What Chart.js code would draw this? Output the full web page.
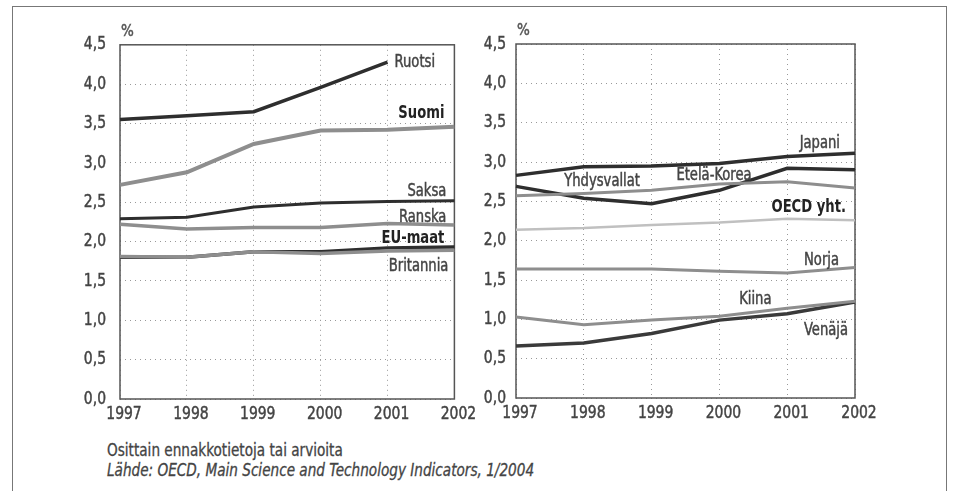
<!DOCTYPE html>
<html><head><meta charset="utf-8">
<script src="https://cdn.jsdelivr.net/npm/chart.js@4/dist/chart.umd.min.js"></script>
<style>
html,body{margin:0;padding:0;background:#fff;width:955px;height:491px;overflow:hidden;}
.frame{position:absolute;left:12px;top:6px;width:935px;height:520px;border:1.5px solid #777;border-bottom:none;box-sizing:border-box;}
.box{position:absolute;top:20px;width:420px;height:420px;}
.note{position:absolute;left:107px;font-family:'DejaVu Sans Condensed','DejaVu Sans',sans-serif;font-stretch:condensed;font-size:17px;color:#444;white-space:nowrap;transform:scaleX(0.89);transform-origin:0 0;-webkit-text-stroke:0.3px #444;}
</style></head>
<body>
<div class="frame"></div>
<div class="box" style="left:60px"><canvas id="c1" width="420" height="420"></canvas></div>
<div class="box" style="left:470px"><canvas id="c2" width="420" height="420"></canvas></div>
<div class="note" style="top:440px">Osittain ennakkotietoja tai arvioita</div>
<div class="note" style="top:460px;font-style:italic">Lähde: OECD, Main Science and Technology Indicators, 1/2004</div>
<script>
const years = ['1997','1998','1999','2000','2001','2002'];
const unitLabel = '%';
// Left panel
const ruotsi    = [3.55, 3.60, 3.65, 3.96, 4.28, null];
const suomi     = [2.72, 2.88, 3.24, 3.41, 3.42, 3.46];
const saksa     = [2.29, 2.31, 2.44, 2.49, 2.51, 2.52];
const ranska    = [2.22, 2.16, 2.18, 2.18, 2.23, 2.21];
const britannia = [1.81, 1.80, 1.87, 1.85, 1.88, 1.89];
const euMaat    = [1.80, 1.80, 1.87, 1.87, 1.92, 1.93];
// Right panel
const japani      = [2.83, 2.94, 2.95, 2.98, 3.07, 3.11];
const yhdysvallat = [2.69, 2.54, 2.47, 2.64, 2.92, 2.90];
const etelaKorea  = [2.57, 2.60, 2.64, 2.72, 2.75, 2.67];
const oecd        = [2.14, 2.16, 2.20, 2.23, 2.28, 2.26];
const norja       = [1.64, 1.64, 1.64, 1.61, 1.59, 1.66];
const kiina       = [1.03, 0.93, 0.99, 1.04, 1.14, 1.23];
const venaja      = [0.66, 0.70, 0.82, 0.99, 1.07, 1.22];

const FONT = "'DejaVu Sans Condensed','DejaVu Sans',sans-serif";
Chart.defaults.font.family = FONT;
Chart.defaults.font.size = 18;
Chart.defaults.color = '#444';

const DARK = '#2e2e2e', GRAY = '#8e8e8e', LIGHT = '#c0c0c0';

// condense canvas text horizontally (the original uses a condensed typeface)
function condense(canvas) {
  const ctx = canvas.getContext('2d');
  const orig = ctx.fillText.bind(ctx);
  const origStroke = ctx.strokeText.bind(ctx);
  ctx.fillText = function (text, x, y, maxW) {
    const s = String(text);
    const k = /^[\d,]+$/.test(s) ? 0.86 : (s === '%' ? 1 : 0.86);
    this.save();
    this.translate(x, y);
    this.scale(k, 1);
    orig(s, 0, 0);
    if (!/bold/.test(this.font)) {
      this.strokeStyle = this.fillStyle;
      this.lineWidth = 0.45;
      origStroke(s, 0, 0);
    }
    this.restore();
  };
}

function ds(label, data, color, width) {
  return {label, data, borderColor: color, borderWidth: width, pointRadius: 0, tension: 0, fill: false, spanGaps: true, borderCapStyle: 'butt', borderJoinStyle: 'miter'};
}

const panelPlugin = {
  id: 'panel',
  beforeDatasetsDraw(chart) {
    const a = chart.chartArea, ctx = chart.ctx;
    ctx.save();
    ctx.strokeStyle = '#555';
    ctx.lineWidth = 1.5;
    ctx.strokeRect(a.left, a.top, a.right - a.left, a.bottom - a.top);
    ctx.fillStyle = '#555';
    ctx.font = '15px ' + FONT;
    ctx.textAlign = 'left';
    ctx.textBaseline = 'bottom';
    ctx.fillText(unitLabel, a.left + 1, a.top - 5);
    ctx.restore();
  },
  afterDatasetsDraw(chart, args, opts) {
    const ctx = chart.ctx, xs = chart.scales.x, ys = chart.scales.y;
    ctx.save();
    ctx.textBaseline = 'middle';
    (opts.labels || []).forEach(l => {
      ctx.font = (l.bold ? 'bold ' : '') + '17px ' + FONT;
      ctx.fillStyle = l.bold ? '#222' : '#444';
      ctx.textAlign = l.align;
      ctx.fillText(l.text, xs.getPixelForValue(l.x) + (l.dx || 0), ys.getPixelForValue(l.y));
    });
    ctx.restore();
  }
};

function makeChart(id, datasets, labels, yWidth, yPad, rightPad, plotH) {
  const canvas = document.getElementById(id);
  condense(canvas);
  return new Chart(canvas, {
    type: 'line',
    data: {labels: years, datasets},
    options: {
      responsive: false, animation: false,
      layout: {padding: {top: 24, right: rightPad, left: 0, bottom: 0}},
      plugins: {legend: {display: false}, tooltip: {enabled: false}, panel: {labels}},
      scales: {
        x: {
          offset: false,
          grid: {color: '#999', lineWidth: 1, drawTicks: false},
          border: {display: false, dash: [1, 4]},
          ticks: {padding: 5, labelOffset: 4, color: '#444', maxRotation: 0, autoSkip: false},
          afterFit(s) { s.height = 420 - 24 - plotH; }
        },
        y: {
          min: 0, max: 4.5,
          grid: {color: '#999', lineWidth: 1, drawTicks: false},
          border: {display: false, dash: [1, 4]},
          ticks: {stepSize: 0.5, padding: yPad, color: '#444', callback: v => v.toFixed(1).replace('.', ',')},
          afterFit(s) { s.width = yWidth; }
        }
      }
    },
    plugins: [panelPlugin]
  });
}

makeChart('c1', [
  ds('Britannia', britannia, GRAY, 3.5),
  ds('EU-maat', euMaat, DARK, 3.5),
  ds('Ranska', ranska, GRAY, 3.5),
  ds('Saksa', saksa, DARK, 3),
  ds('Suomi', suomi, GRAY, 4),
  ds('Ruotsi', ruotsi, DARK, 3.5)
], [
  {text: 'Ruotsi', x: 4, y: 4.27, align: 'left', dx: 7},
  {text: 'Suomi', x: 5, y: 3.62, align: 'right', dx: -10, bold: true},
  {text: 'Saksa', x: 5, y: 2.64, align: 'right', dx: -8},
  {text: 'Ranska', x: 5, y: 2.31, align: 'right', dx: -8},
  {text: 'EU-maat', x: 5, y: 2.04, align: 'right', dx: -10, bold: true},
  {text: 'Britannia', x: 5, y: 1.68, align: 'right', dx: -6}
], 60, 14, 22, 355);

makeChart('c2', [
  ds('OECD yht.', oecd, LIGHT, 2.5),
  ds('Etelä-Korea', etelaKorea, GRAY, 3),
  ds('Norja', norja, GRAY, 3),
  ds('Kiina', kiina, GRAY, 3),
  ds('Venäjä', venaja, '#3a3a3a', 3.5),
  ds('Yhdysvallat', yhdysvallat, DARK, 3.5),
  ds('Japani', japani, DARK, 3.5)
], [
  {text: 'Japani', x: 5, y: 3.23, align: 'right', dx: -15},
  {text: 'Yhdysvallat', x: 1.27, y: 2.75, align: 'center'},
  {text: 'Etelä-Korea', x: 2.92, y: 2.83, align: 'center'},
  {text: 'OECD yht.', x: 5, y: 2.42, align: 'right', dx: -9, bold: true},
  {text: 'Norja', x: 5, y: 1.75, align: 'right', dx: -16},
  {text: 'Kiina', x: 3.53, y: 1.25, align: 'center'},
  {text: 'Venäjä', x: 5, y: 0.86, align: 'right', dx: -7}
], 46, 10, 35, 354);
</script>
</body></html>
